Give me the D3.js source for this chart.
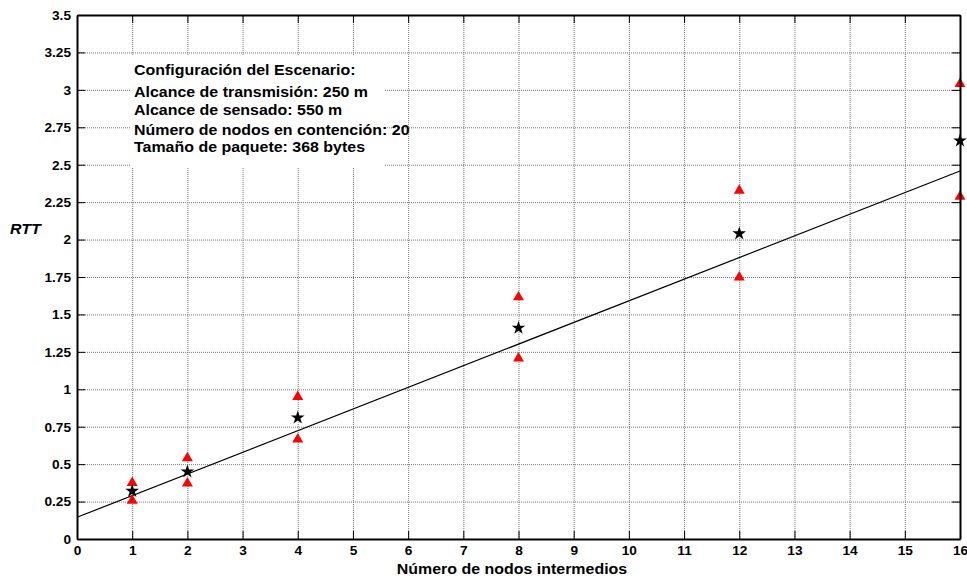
<!DOCTYPE html>
<html><head><meta charset="utf-8">
<script src="https://cdn.jsdelivr.net/npm/d3@7"></script>
<style>body{margin:0;background:#fff}svg{display:block}</style>
</head><body>
<svg id="c" width="967" height="579"></svg>
<script>
const xTicks = [0,1,2,3,4,5,6,7,8,9,10,11,12,13,14,15,16];
const yTicks = [0,0.25,0.5,0.75,1,1.25,1.5,1.75,2,2.25,2.5,2.75,3,3.25,3.5];
const yTickLabels = ["0","0.25","0.5","0.75","1","1.25","1.5","1.75","2","2.25","2.5","2.75","3","3.25","3.5"];
const nodes = [1,2,4,8,12,16];
const rttMean = [0.32,0.45,0.81,1.41,2.04,2.66];
const rttUpper = [0.375,0.54,0.95,1.615,2.327,3.04];
const rttLower = [0.256,0.372,0.666,1.207,1.748,2.287];
const fitX = [0,16];
const fitY = [0.145,2.458];
const infoLines = ["Configuración del Escenario:","Alcance de transmisión: 250 m","Alcance de sensado: 550 m","Número de nodos en contención: 20","Tamaño de paquete: 368 bytes"];
const xTitle = "Número de nodos intermedios";
const yTitle = "RTT";

const svg = d3.select("#c");
const L=77, R=960, T=15, B=539, SX=1.14;
const x = d3.scaleLinear().domain([0,16]).range([L,R]);
const y = d3.scaleLinear().domain([0,3.5]).range([B,T]);
const font = "'Liberation Sans', Arial, Helvetica, sans-serif";

// grid
const gx = svg.append("g").attr("transform",`translate(0,${B})`)
  .call(d3.axisBottom(x).tickValues(xTicks).tickSize(-(B-T)).tickFormat(""));
const gy = svg.append("g").attr("transform",`translate(${L},0)`)
  .call(d3.axisLeft(y).tickValues(yTicks).tickSize(-(R-L)).tickFormat(""));
[gx,gy].forEach(g=>{g.select(".domain").remove();
  g.selectAll("line").attr("stroke","#777").attr("stroke-width",1).attr("stroke-dasharray","1,1");});

// info box
svg.append("rect").attr("x",131).attr("y",55).attr("width",253).attr("height",112).attr("fill","#fff");
const infoY=[75,97,115,135,152];
infoLines.forEach((t,i)=>{
  svg.append("text").attr("transform",`translate(134,${infoY[i]}) scale(${SX},1)`)
    .attr("font-family",font).attr("font-weight","bold").attr("font-size",14).attr("fill","#000").text(t);
});

// fit line
const line = d3.line().x(d=>x(d[0])).y(d=>y(d[1]));
svg.append("path").datum(fitX.map((v,i)=>[v,fitY[i]])).attr("d",line)
  .attr("fill","none").attr("stroke","#000").attr("stroke-width",1.2);

// markers
const tri = d3.symbol().type(d3.symbolTriangle).size(52);
const star = d3.symbol().type(d3.symbolStar).size(58);
svg.append("g").selectAll("path.u").data(nodes).join("path")
  .attr("transform",(d,i)=>`translate(${x(d)},${y(rttUpper[i])})`).attr("d",tri).attr("fill","#ff0000");
svg.append("g").selectAll("path.l").data(nodes).join("path")
  .attr("transform",(d,i)=>`translate(${x(d)},${y(rttLower[i])})`).attr("d",tri).attr("fill","#ff0000");
svg.append("g").selectAll("path.s").data(nodes).join("path")
  .attr("transform",(d,i)=>`translate(${x(d)},${y(rttMean[i])})`).attr("d",star).attr("fill","#000");

// axes
const ax = svg.append("g").attr("transform",`translate(0,${B})`)
  .call(d3.axisBottom(x).tickValues(xTicks).tickSizeInner(-8).tickSizeOuter(0).tickFormat(d=>String(d)));
ax.selectAll("text").attr("y",0).attr("dy",0)
  .attr("transform",`translate(0,16) scale(${SX},1)`);
const ay = svg.append("g").attr("transform",`translate(${L},0)`)
  .call(d3.axisLeft(y).tickValues(yTicks).tickSizeInner(-8).tickSizeOuter(0).tickFormat((d,i)=>yTickLabels[i]));
ay.selectAll("text").attr("x",0).attr("dy","0.36em")
  .attr("transform",`translate(-6,0) scale(${SX},1)`);
const at = svg.append("g").attr("transform",`translate(0,${T})`)
  .call(d3.axisTop(x).tickValues(xTicks).tickSizeInner(-8).tickSizeOuter(0).tickFormat(""));
const ar = svg.append("g").attr("transform",`translate(${R},0)`)
  .call(d3.axisRight(y).tickValues(yTicks).tickSizeInner(-8).tickSizeOuter(0).tickFormat(""));
[ax,ay,at,ar].forEach(g=>{
  g.select(".domain").attr("stroke","#000").attr("stroke-width",2);
  g.selectAll("line").attr("stroke","#000").attr("stroke-width",1);
  g.selectAll("text").attr("font-family",font).attr("font-weight","bold").attr("font-size",12).attr("fill","#000");
});

// titles
svg.append("text").attr("transform",`translate(512,574) scale(${SX},1)`).attr("text-anchor","middle")
  .attr("font-family",font).attr("font-weight","bold").attr("font-size",14).text(xTitle);
svg.append("text").attr("transform",`translate(10,234) scale(${SX},1)`)
  .attr("font-family",font).attr("font-weight","bold").attr("font-style","italic").attr("font-size",14).text(yTitle);
</script>
</body></html>
